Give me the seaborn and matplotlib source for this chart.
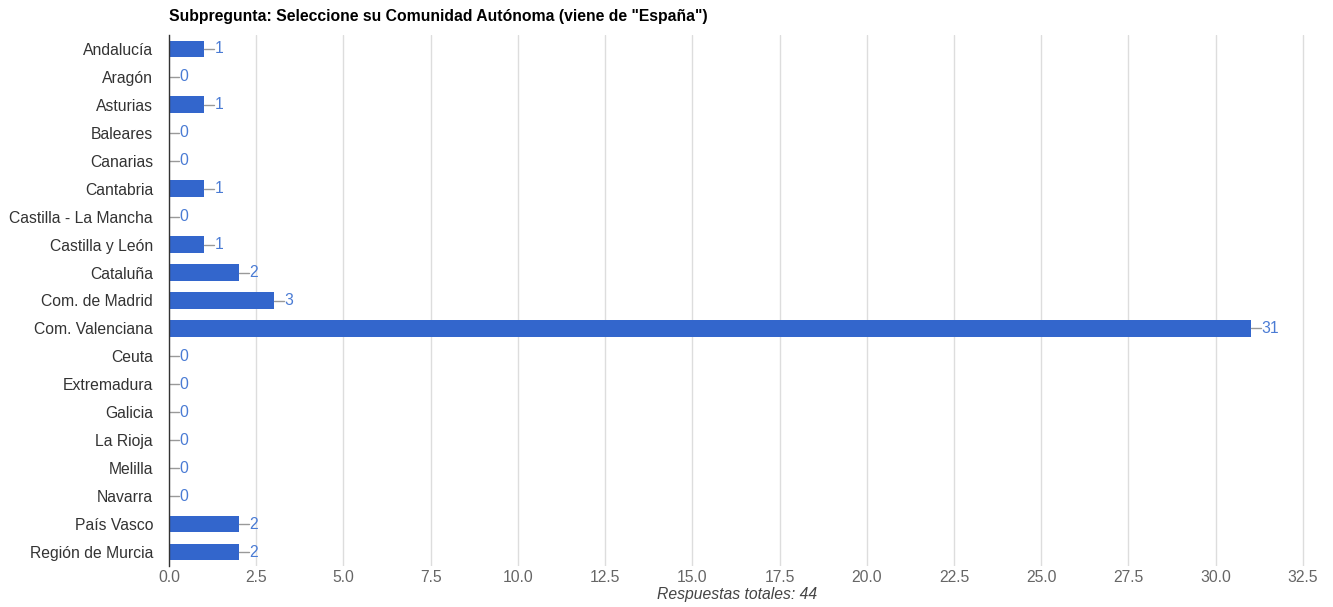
import matplotlib
matplotlib.use("Agg")
import matplotlib.pyplot as plt
import numpy as np
import pandas as pd
import seaborn as sns

CATEGORIAS = [
    "Andalucía", "Aragón", "Asturias", "Baleares", "Canarias", "Cantabria",
    "Castilla - La Mancha", "Castilla y León", "Cataluña", "Com. de Madrid",
    "Com. Valenciana", "Ceuta", "Extremadura", "Galicia", "La Rioja",
    "Melilla", "Navarra", "País Vasco", "Región de Murcia",
]
RESPUESTAS = [1, 0, 1, 0, 0, 1, 0, 1, 2, 3, 31, 0, 0, 0, 0, 0, 0, 2, 2]
TICKS_X = np.arange(0, 32.6, 2.5)
TITULO = 'Subpregunta: Seleccione su Comunidad Autónoma (viene de "España")'
PIE = "Respuestas totales: 44"

AZUL = "#3366cc"
AZUL_TEXTO = "#4a7bd4"

df = pd.DataFrame({"comunidad": CATEGORIAS, "respuestas": RESPUESTAS})

sns.set_theme(style="white")
plt.rcParams["font.family"] = ["Liberation Sans", "DejaVu Sans"]

fig = plt.figure(figsize=(13.33, 6.07), dpi=100)
ax = fig.add_axes([169 / 1333, 1 - 566 / 607, 1136 / 1333, 531 / 607])

sns.barplot(data=df, x="respuestas", y="comunidad", orient="h", color=AZUL,
            saturation=1, width=0.6, linewidth=0, ax=ax, zorder=3)

ax.set_xlim(0, 32.56)
ax.set_ylim(len(CATEGORIAS) - 0.5, -0.5)
ax.set_xticks(TICKS_X)
ax.set_xticklabels([f"{t:.1f}" for t in TICKS_X], color="#666666", fontsize=11.3)
ax.tick_params(axis="y", labelsize=11.3, labelcolor="#333333", length=0, pad=11.5)
ax.tick_params(axis="x", length=0, pad=3)
ax.grid(axis="x", color="#dddddd", linewidth=1, zorder=0)
ax.set_xlabel(PIE, fontsize=11.3, style="italic", color="#444444", labelpad=1)
ax.set_ylabel("")
for lado in ["top", "right", "bottom"]:
    ax.spines[lado].set_visible(False)
ax.spines["left"].set_color("#333333")
ax.spines["left"].set_linewidth(1)
ax.spines["left"].set_zorder(4)

# etiquetas con pequeña línea guía, como en el original
for i, v in enumerate(RESPUESTAS):
    ax.plot([v, v + 0.3], [i, i], color="#999999", linewidth=1, zorder=4)
    ax.text(v + 0.3, i, str(v), va="center", ha="left", color=AZUL_TEXTO,
            fontsize=11.3, zorder=5)

fig.text(169 / 1333, 1 - 16 / 607, TITULO, fontsize=11.3, fontweight="bold",
         color="#000000", va="center", ha="left")

fig.savefig("out.png", dpi=100)
